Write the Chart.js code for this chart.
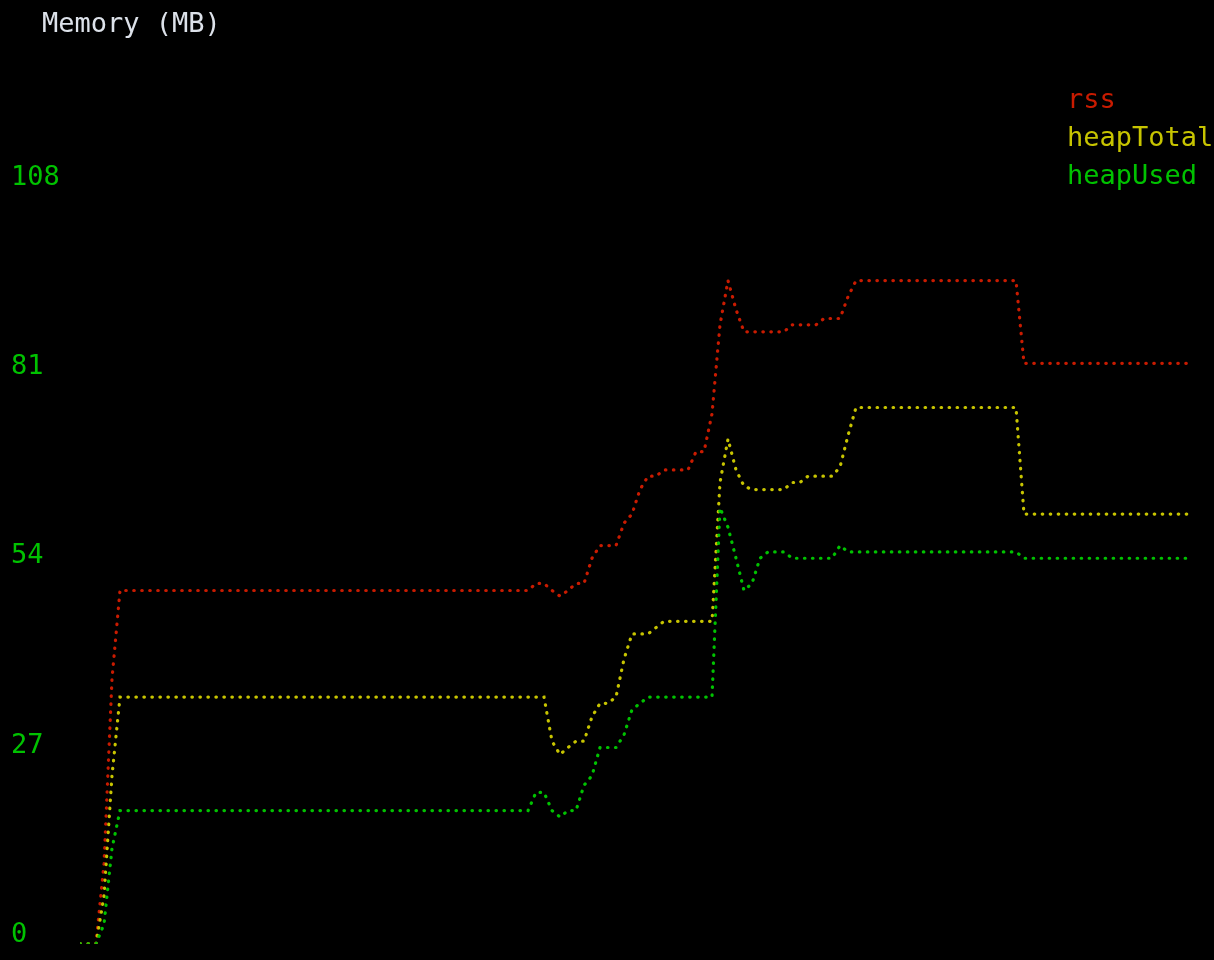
<!DOCTYPE html>
<html>
<head>
<meta charset="utf-8">
<title>Memory (MB)</title>
<script src="https://cdn.jsdelivr.net/npm/chart.js@4.4.1/dist/chart.umd.min.js"></script>
<style>
  html, body { margin: 0; padding: 0; background: #000; }
  canvas { display: block; }
</style>
</head>
<body>
<canvas id="memchart" width="1214" height="960"></canvas>
<script>
// sample index (one per dot column of the terminal chart)
var temps = [0, 2, 3, 4, 5, 55, 56, 57, 58, 59, 60, 61, 62, 63, 64, 65, 66, 67, 68, 69, 70, 71, 72, 73,
             76, 77, 78, 79, 80, 81, 82, 83, 84, 85, 86, 88, 89, 90, 91, 92, 93, 94, 95, 96, 97, 117, 118, 139];
// memory in MB
var rss       = [0, 0, 11.4, 37.8, 50.4, 50.4, 50.4, 51.4, 51.4, 50.4, 49.6, 50.4, 51.4, 51.4, 55.0, 56.8, 56.8, 56.8, 60.0, 61.3, 64.8, 66.7, 66.7, 67.6,
                 67.6, 70.2, 70.2, 75.6, 88.3, 94.6, 90.5, 87.3, 87.3, 87.3, 87.3, 87.3, 88.3, 88.3, 88.3, 88.3, 89.2, 89.2, 89.2, 92.3, 94.6, 94.6, 82.8, 82.8];
var heapTotal = [0, 0, 6.8, 24.0, 35.2, 35.2, 35.2, 35.2, 35.2, 28.9, 27.0, 28.0, 28.9, 28.9, 32.4, 34.3, 34.3, 35.2, 40.6, 44.2, 44.2, 44.2, 45.1, 46.0,
                 46.0, 46.0, 46.0, 46.0, 65.8, 72.0, 67.6, 65.3, 64.8, 64.8, 64.8, 64.8, 65.8, 65.8, 66.7, 66.7, 66.7, 66.7, 68.0, 72.5, 76.5, 76.5, 61.3, 61.3];
var heapUsed  = [0, 0, 2.8, 13.6, 19.0, 19.0, 19.0, 21.6, 21.6, 19.0, 18.1, 19.0, 19.0, 22.6, 24.0, 28.0, 28.0, 28.0, 29.8, 33.4, 34.3, 35.2, 35.2, 35.2,
                 35.2, 35.2, 35.2, 35.2, 62.2, 59.4, 55.0, 50.4, 51.4, 55.0, 55.9, 55.9, 55.0, 55.0, 55.0, 55.0, 55.0, 55.0, 56.8, 55.9, 55.9, 55.9, 55.0, 55.0];

var noms = ['rss', 'heapTotal', 'heapUsed'];
var couleurs = ['#c91b00', '#c7c400', '#00c200'];
var graduations = [0, 27, 54, 81, 108];
var titre = 'Memory (MB)';

var police = '"DejaVu Sans Mono", monospace';

function points(vals) {
    return temps.map(function(t, i) { return {x: t, y: vals[i]}; });
}

function serie(i, vals) {
    return {
        label: noms[i],
        data: points(vals),
        borderColor: couleurs[i],
        borderWidth: 3.2,
        borderCapStyle: 'round',
        borderDash: [0.5, 7.5],
        pointRadius: 0,
        tension: 0,
        fill: false,
        order: 3 - i // heapUsed on top
    };
}

// title and legend written like terminal text
var texteTerminal = {
    id: 'texteTerminal',
    afterDraw: function(chart) {
        var ctx = chart.ctx;
        ctx.save();
        ctx.font = '27px ' + police;
        ctx.textAlign = 'left';
        ctx.textBaseline = 'alphabetic';
        ctx.fillStyle = '#dde2ea';
        ctx.fillText(titre, 42, 32);
        chart.data.datasets.forEach(function(ds, i) {
            ctx.fillStyle = ds.borderColor;
            ctx.fillText(ds.label, 1067, 108 + i * 38);
        });
        ctx.restore();
    }
};

var graphe = new Chart(document.getElementById('memchart'), {
    type: 'line',
    data: {
        datasets: [serie(0, rss), serie(1, heapTotal), serie(2, heapUsed)]
    },
    options: {
        responsive: false,
        devicePixelRatio: 1,
        animation: false,
        events: [],
        layout: { padding: { left: 11, right: 22, top: 102.56, bottom: 13 } },
        plugins: {
            legend: { display: false },
            title: { display: false },
            tooltip: { enabled: false }
        },
        scales: {
            x: { type: 'linear', min: 0, max: 139, display: false },
            y: {
                min: 0,
                max: 120,
                grid: { display: false, drawTicks: false },
                border: { display: false },
                afterFit: function(s) { s.width = 69; },
                afterBuildTicks: function(s) {
                    s.ticks = graduations.map(function(v) { return {value: v}; });
                },
                ticks: {
                    color: '#00c200',
                    font: { family: police, size: 27 },
                    crossAlign: 'far',
                    labelOffset: -9,
                    padding: 0
                }
            }
        }
    },
    plugins: [texteTerminal]
});
</script>
</body>
</html>
